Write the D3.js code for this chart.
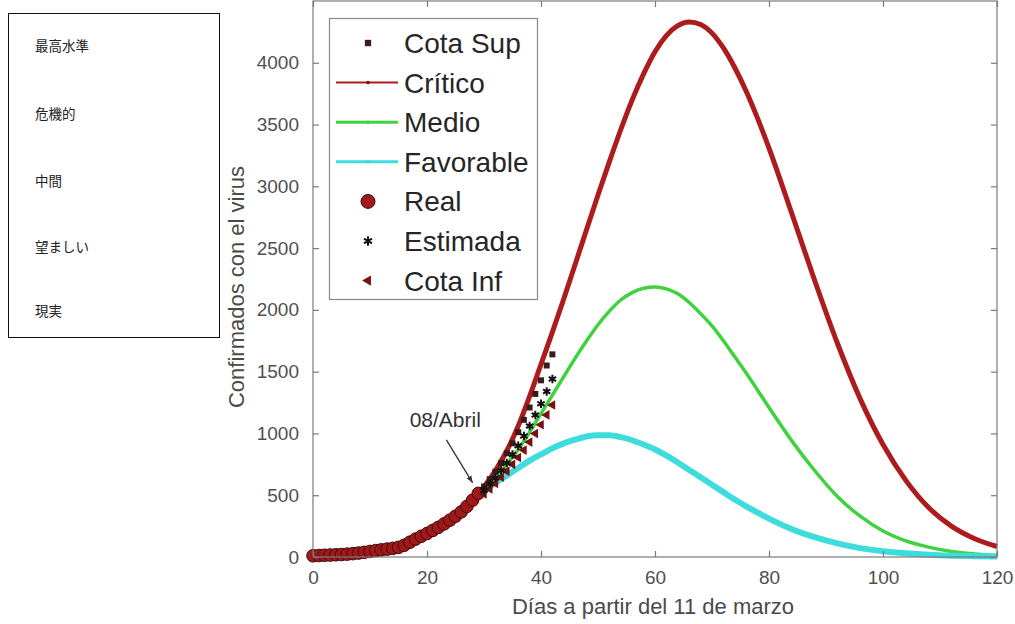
<!DOCTYPE html>
<html><head><meta charset="utf-8">
<script src="https://cdn.jsdelivr.net/npm/d3@7"></script>
<style>
html,body{margin:0;padding:0;background:#fff;}
svg{display:block;font-family:"Liberation Sans",Arial,sans-serif;}
</style></head>
<body>
<svg id="c" width="1015" height="624"></svg>
<script>
// ---- data ----
const sideLabels = ["最高水準","危機的","中間","望ましい","現実"];
const legendLabels = ["Cota Sup","Crítico","Medio","Favorable","Real","Estimada","Cota Inf"];
const xTicks = [0,20,40,60,80,100,120];
const yTicks = [0,500,1000,1500,2000,2500,3000,3500,4000];

const realDays = [0,1,2,3,4,5,6,7,8,9,10,11,12,13,14,15,16,17,18,19,20,21,22,23,24,25,26,27,28,29];
const realVals = [10,12,14,16,18,20,23,27,32,38,45,52,58,64,70,78,95,120,145,168,190,215,240,268,298,330,365,410,460,515];

const estDays = [30,31,32,33,34,35,36,37,38,39,40,41,42];
const estVals = [540,590,640,700,760,830,900,980,1060,1150,1240,1340,1440];
const supVals = [570,630,690,760,840,920,1010,1110,1210,1320,1430,1550,1640];
const infVals = [510,550,595,645,695,750,805,865,930,1000,1070,1150,1230];

const curveDays = [28,30,32,34,36,38,40,42,44,46,48,50,52,54,56,58,60,62,64,66,68,70,72,74,76,78,80,84,88,92,96,100,104,108,112,116,120];
const criticoVals = [470,570,700,860,1060,1300,1560,1820,2090,2370,2650,2930,3200,3460,3700,3910,4090,4220,4300,4330,4310,4240,4120,3960,3770,3550,3310,2780,2240,1730,1280,910,620,400,250,150,85];
const medioVals = [480,550,640,750,870,1010,1160,1310,1460,1610,1750,1880,1990,2080,2140,2175,2185,2170,2130,2060,1970,1870,1750,1620,1490,1350,1210,940,700,490,330,210,130,80,45,25,12];
const favVals = [470,530,600,660,720,780,830,880,920,950,975,985,985,970,945,910,870,820,765,705,645,585,525,465,410,360,310,225,160,110,72,47,30,18,11,7,4];

const annotation = {text:"08/Abril", tx:23.2, ty:1050, ax0:23.4, ay0:948, ax1:28.0, ay1:600};

// ---- drawing ----
const svg = d3.select("#c");
const X0=313, X1=997, Y0=1, Y1=557;
const x = d3.scaleLinear().domain([0,120]).range([X0,X1]);
const y = d3.scaleLinear().domain([0,4500]).range([Y1,Y0]);

const axisCol="#7a7a7a", tickTxt="#505050";

// side box
svg.append("rect").attr("x",8.5).attr("y",13.5).attr("width",211).attr("height",324)
  .attr("fill","#fff").attr("stroke","#111").attr("stroke-width",1);
const sideY=[46,114,181,247,311];
sideLabels.forEach((t,i)=>{
  svg.append("text").attr("x",35).attr("y",sideY[i]).attr("dy","0.35em")
    .attr("font-family","'Noto Sans CJK JP',sans-serif").attr("font-size",13.5).attr("fill","#222").text(t);
});

// curves
const line = d3.line().x(d=>x(d[0])).y(d=>y(d[1])).curve(d3.curveMonotoneX);
const mk = vals => curveDays.map((d,i)=>[d,vals[i]]);
svg.append("path").datum(mk(criticoVals)).attr("d",line).attr("fill","none")
  .attr("stroke","#ac1c1c").attr("stroke-width",5).attr("stroke-linejoin","round");
svg.append("path").datum(mk(medioVals)).attr("d",line).attr("fill","none")
  .attr("stroke","#3fd23f").attr("stroke-width",3.5);
svg.append("path").datum(mk(favVals)).attr("d",line).attr("fill","none")
  .attr("stroke","#3edcdc").attr("stroke-width",6);

// real points
svg.append("g").selectAll("circle").data(realDays).join("circle")
  .attr("cx",(d)=>x(d)).attr("cy",(d,i)=>y(realVals[i])).attr("r",6.3)
  .attr("fill","#9e1a1a").attr("stroke","#450707").attr("stroke-width",1);

// cota inf triangles
const tri = d3.symbol().type(d3.symbolTriangle).size(40);
svg.append("g").selectAll("path").data(estDays).join("path")
  .attr("d",tri).attr("transform",(d,i)=>`translate(${x(d)},${y(infVals[i])}) rotate(-90)`)
  .attr("fill","#7a1010");
// cota sup squares
const sq = d3.symbol().type(d3.symbolSquare).size(36);
svg.append("g").selectAll("path").data(estDays).join("path")
  .attr("d",sq).attr("transform",(d,i)=>`translate(${x(d)},${y(supVals[i])})`)
  .attr("fill","#3a1a1a");
// estimated asterisks
const ast = d3.symbol().type(d3.symbolAsterisk).size(50);
svg.append("g").selectAll("path").data(estDays).join("path")
  .attr("d",ast).attr("transform",(d,i)=>`translate(${x(d)},${y(estVals[i])})`)
  .attr("fill","none").attr("stroke","#111").attr("stroke-width",2);

// frame
svg.append("rect").attr("x",X0).attr("y",Y0).attr("width",X1-X0).attr("height",Y1-Y0)
  .attr("fill","none").attr("stroke",axisCol).attr("stroke-width",1.2);
// axes
const xa = svg.append("g").attr("transform",`translate(0,${Y1})`)
  .call(d3.axisBottom(x).tickValues(xTicks).tickSize(-6).tickPadding(14).tickFormat(d3.format("d")));
const xt = svg.append("g").attr("transform",`translate(0,${Y0})`)
  .call(d3.axisTop(x).tickValues(xTicks).tickSize(-6).tickFormat(""));
const ya = svg.append("g").attr("transform",`translate(${X0},0)`)
  .call(d3.axisLeft(y).tickValues(yTicks).tickSize(-6).tickPadding(14).tickFormat(d3.format("d")));
const yr = svg.append("g").attr("transform",`translate(${X1},0)`)
  .call(d3.axisRight(y).tickValues(yTicks).tickSize(-6).tickFormat(""));
[xa,xt,ya,yr].forEach(g=>{
  g.select(".domain").remove();
  g.selectAll(".tick line").attr("stroke",axisCol).attr("stroke-width",1.2);
  g.selectAll(".tick text").attr("font-size",19).attr("fill",tickTxt)
    .attr("font-family","'Liberation Sans',Arial,sans-serif");
});

// axis labels
svg.append("text").attr("x",(X0+X1)/2-2).attr("y",614).attr("text-anchor","middle")
  .attr("font-size",22).attr("fill","#4a4a4a").text("Días a partir del 11 de marzo");
svg.append("text").attr("transform",`translate(244,${(Y0+Y1)/2+8}) rotate(-90)`).attr("text-anchor","middle")
  .attr("font-size",22).attr("fill","#4a4a4a").text("Confirmados con el virus");

// annotation
svg.append("defs").append("marker").attr("id","ah").attr("viewBox","0 0 10 10")
  .attr("refX",10).attr("refY",5).attr("markerWidth",7).attr("markerHeight",7)
  .attr("orient","auto").attr("markerUnits","userSpaceOnUse")
  .append("path").attr("d","M0,1 L10,5 L0,9 Z").attr("fill","#333");
svg.append("line").attr("x1",x(annotation.ax0)).attr("y1",y(annotation.ay0))
  .attr("x2",x(annotation.ax1)).attr("y2",y(annotation.ay1))
  .attr("stroke","#333").attr("stroke-width",1.3).attr("marker-end","url(#ah)");
svg.append("text").attr("x",x(annotation.tx)).attr("y",y(annotation.ty)).attr("text-anchor","middle")
  .attr("font-size",21).attr("fill","#333").text(annotation.text);

// legend
const lg = svg.append("g");
lg.append("rect").attr("x",329.5).attr("y",18.5).attr("width",208).attr("height",281)
  .attr("fill","#fff").attr("stroke","#888").attr("stroke-width",1.2);
const rowY = i => 43 + i*39.6;
const mx = 368;
legendLabels.forEach((t,i)=>{
  lg.append("text").attr("x",404).attr("y",rowY(i)).attr("dy","0.36em")
    .attr("font-size",28).attr("fill","#262626").text(t);
});
// legend markers
lg.append("path").attr("d",d3.symbol().type(d3.symbolSquare).size(40)())
  .attr("transform",`translate(${mx},${rowY(0)})`).attr("fill","#3a1a1a");
[["#ac1c1c",2],["#3fd23f",3],["#3edcdc",3]].forEach((s,k)=>{
  const yy=rowY(k+1);
  lg.append("line").attr("x1",336).attr("x2",398).attr("y1",yy).attr("y2",yy)
    .attr("stroke",s[0]).attr("stroke-width",s[1]);
  lg.append("circle").attr("cx",mx).attr("cy",yy).attr("r",1.8).attr("fill",k===0?"#7a1010":s[0]);
});
lg.append("circle").attr("cx",mx).attr("cy",rowY(4)).attr("r",7)
  .attr("fill","#9e1a1a").attr("stroke","#450707");
lg.append("path").attr("d",d3.symbol().type(d3.symbolAsterisk).size(60)())
  .attr("transform",`translate(${mx},${rowY(5)})`).attr("fill","none").attr("stroke","#111").attr("stroke-width",2);
lg.append("path").attr("d",d3.symbol().type(d3.symbolTriangle).size(45)())
  .attr("transform",`translate(${mx},${rowY(6)}) rotate(-90)`).attr("fill","#7a1010");
</script>
</body></html>
